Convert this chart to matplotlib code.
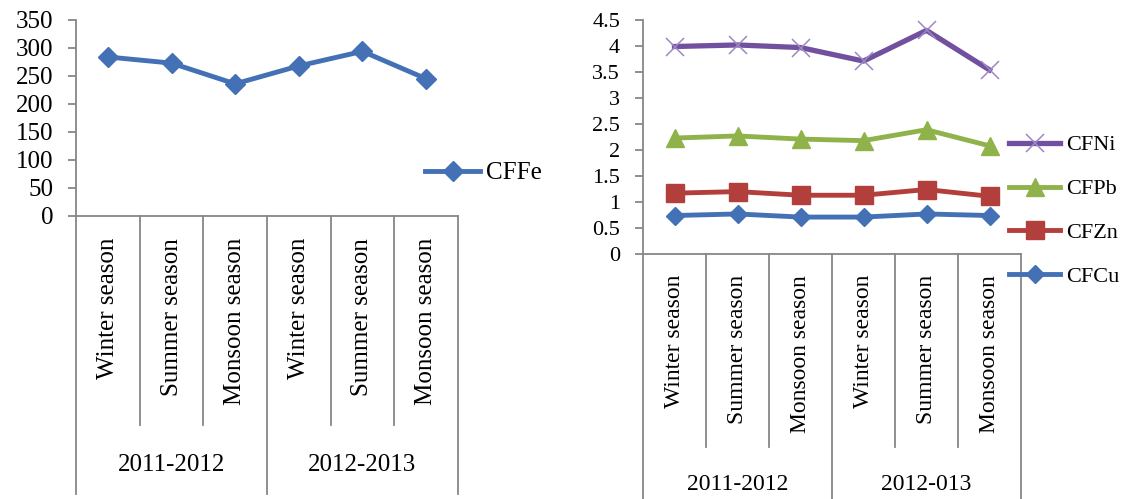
import matplotlib.pyplot as plt
from matplotlib.ticker import FuncFormatter

plt.rcParams['font.family'] = ['Liberation Serif', 'DejaVu Serif']

# categories
seasons = ["Winter season", "Summer season", "Monsoon season",
           "Winter season", "Summer season", "Monsoon season"]
years_fe = ["2011-2012", "2012-2013"]
years_metals = ["2011-2012", "2012-013"]

# contamination factor, iron
cffe = [284, 273, 236, 268, 294, 245]

# contamination factors, other metals
cfni = [3.99, 4.02, 3.97, 3.71, 4.30, 3.54]
cfpb = [2.23, 2.27, 2.21, 2.18, 2.39, 2.08]
cfzn = [1.17, 1.20, 1.13, 1.13, 1.24, 1.11]
cfcu = [0.74, 0.77, 0.71, 0.71, 0.77, 0.74]

grey = '#878787'
blue = '#4471B6'
red = '#B23F3C'
green = '#8FB34A'
purple = '#71519F'
light_purple = '#9C88C6'


def style_axes(ax, fs, ymax, step):
    ax.set_xlim(-0.5, len(seasons) - 0.5)
    ax.set_ylim(0, ymax)
    ax.set_yticks([i * step for i in range(int(round(ymax / step)) + 1)])
    ax.yaxis.set_major_formatter(FuncFormatter(lambda v, p: f"{v:g}"))
    ax.set_xticks([])
    for side in ['top', 'right']:
        ax.spines[side].set_visible(False)
    for side in ['left', 'bottom']:
        ax.spines[side].set_color(grey)
        ax.spines[side].set_linewidth(1.3)
    ax.tick_params(axis='y', direction='out', length=5.5, width=1.3,
                   color=grey, labelsize=fs, pad=11)


# two-level category axis drawn below the plot area (y in axes fraction)
def category_axis(ax, years, fs, label_top, inner_end, outer_end, year_y):
    trans = ax.get_xaxis_transform()
    for i in range(len(seasons) + 1):
        end = outer_end if i % 3 == 0 else inner_end
        ax.plot([i - 0.5, i - 0.5], [0, end], transform=trans, color=grey,
                lw=1.3, clip_on=False)
    for i, s in enumerate(seasons):
        ax.text(i, label_top, s, transform=trans, rotation=90,
                ha='center', va='top', fontsize=fs)
    for j, yr in enumerate(years):
        ax.text(3 * j + 1, year_y, yr, transform=trans,
                ha='center', va='center', fontsize=fs)


fig = plt.figure(figsize=(11.23, 4.99), dpi=100)

# left: CFFe
ax1 = fig.add_axes([76 / 1123, 1 - 216 / 499, 382 / 1123, 196 / 499])
style_axes(ax1, 18, 350, 50)
x = range(len(seasons))
ax1.plot(x, cffe, color=blue, lw=3.5, marker='D', ms=10, label='CFFe')
category_axis(ax1, years_fe, 18, -0.112, -1.066, -1.42, -1.27)
ax1.legend(loc='center left', bbox_to_anchor=(425 / 1123, 1 - 173 / 499),
           bbox_transform=fig.transFigure, frameon=False, fontsize=18,
           handlelength=2.2, handletextpad=0.25, borderpad=0,
           borderaxespad=0, numpoints=1)

# right: CFCu, CFZn, CFPb, CFNi
ax2 = fig.add_axes([643 / 1123, 1 - 254 / 499, 378 / 1123, 234 / 499])
style_axes(ax2, 16, 4.5, 0.5)
ax2.plot(x, cfcu, color=blue, lw=3.5, marker='D', ms=9, label='CFCu')
ax2.plot(x, cfzn, color=red, lw=3.5, marker='s', ms=12.5, label='CFZn')
ax2.plot(x, cfpb, color=green, lw=3.5, marker='^', ms=13, label='CFPb')
ax2.plot(x, cfni, color=purple, lw=3.8, marker='x', ms=13, mew=1.1,
         mec=light_purple, label='CFNi')
category_axis(ax2, years_metals, 17, -0.09, -0.825, -1.06, -0.987)
handles, labels = ax2.get_legend_handles_labels()
ax2.legend(handles[::-1], labels[::-1], loc='center left',
           bbox_to_anchor=(1009 / 1123, 1 - 211 / 499),
           bbox_transform=fig.transFigure, frameon=False, fontsize=16,
           handlelength=2.3, handletextpad=0.25, labelspacing=1.05,
           borderpad=0, borderaxespad=0, numpoints=1)

fig.savefig('out.png', dpi=100)
